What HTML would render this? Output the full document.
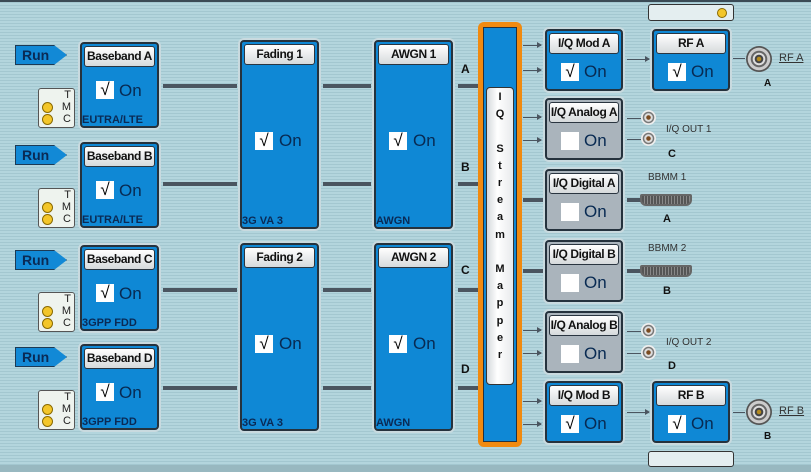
<!DOCTYPE html>
<html><head><meta charset="utf-8"><style>
*{margin:0;padding:0;box-sizing:border-box}
body{width:811px;height:472px;overflow:hidden;position:relative;font-family:"Liberation Sans",sans-serif;
background:repeating-linear-gradient(180deg,#b3d5dd 0px,#b3d5dd 2px,#a3c7d0 2px,#a3c7d0 3px);}
.a{position:absolute}
.blk{position:absolute;background:#0f88d5;border:2px solid #25323d;border-radius:4px;box-shadow:0 0 0 2px #c9dadf}
.gray{background:#aab4bc}
.hd{position:absolute;left:2px;right:2px;top:2px;height:21px;background:linear-gradient(#fff,#d6dadc);border:1px solid #2a3540;border-radius:3px;font:bold 12px "Liberation Sans",sans-serif;text-align:center;line-height:19px;color:#111;white-space:nowrap;letter-spacing:-0.4px}
.cb{position:absolute;width:18px;height:18px;background:#fff;font:17px "Liberation Sans",sans-serif;line-height:18px;text-align:center;color:#000}
.on{position:absolute;font:17px "Liberation Sans",sans-serif;color:#082a52}
.sub{position:absolute;left:0;bottom:0;font:bold 11px "Liberation Sans",sans-serif;color:#0a2a55;white-space:nowrap}
.ln{position:absolute;height:4px;background:#4a5560}
.tn{position:absolute;height:1px;background:#4a5560}
.tn:after{content:"";position:absolute;right:-1px;top:-3px;border-left:5px solid #4a5560;border-top:3.5px solid transparent;border-bottom:3.5px solid transparent}
.run{position:absolute;width:52px;height:20px;background:#1289d6;border:1px solid #1c3a55;clip-path:polygon(0 0,75% 0,100% 50%,75% 100%,0 100%);font:bold 14px "Liberation Sans",sans-serif;color:#0a2a55;line-height:19px;padding-left:6px}
.tmc{position:absolute;width:37px;height:40px;background:#eef3ee;border:1px solid #555;border-radius:3px;font:11px "Liberation Sans",sans-serif;color:#222}
.tmc span{position:absolute;right:3px}
.dot{position:absolute;left:3px;width:11px;height:11px;border-radius:50%;background:#f3c62a;border:1px solid #8a6a00}
.lbl{position:absolute;font:bold 12px "Liberation Sans",sans-serif;color:#111}
.sm{position:absolute;font:10px "Liberation Sans",sans-serif;color:#333}
.bnc{position:absolute;width:15px;height:15px;border-radius:50%;background:radial-gradient(circle,#7a4a20 0 2px,#ddd 2.5px 4px,#777 4.5px 5.5px,#eee 6px)}
.bbmm{position:absolute;width:52px;height:12px;background:repeating-linear-gradient(90deg,#555 0 2px,#888 2px 3px);border:2px solid #666;border-radius:2px 2px 6px 6px}
.rfc{position:absolute;width:26px;height:26px;border-radius:50%;background:radial-gradient(circle,#b38a20 0 2px,#444 2.5px 4px,#ddd 4.5px 6px,#666 6.5px 8px,#ccc 8.5px 11px,#555 11.5px)}
</style></head><body>
<div class="a" style="left:0;top:0;width:811px;height:2px;background:#3a4a55"></div>
<div class="a" style="left:0;top:465px;width:811px;height:7px;background:#98b8c0"></div>

<div class="run" style="left:15px;top:45px">Run</div>
<div class="run" style="left:15px;top:145px">Run</div>
<div class="run" style="left:15px;top:250px">Run</div>
<div class="run" style="left:15px;top:347px">Run</div>

<div class="tmc" style="left:38px;top:88px"><span style="top:0">T</span><span style="top:12px">M</span><span style="top:24px">C</span><div class="dot" style="top:13px"></div><div class="dot" style="top:25px"></div></div>
<div class="tmc" style="left:38px;top:188px"><span style="top:0">T</span><span style="top:12px">M</span><span style="top:24px">C</span><div class="dot" style="top:13px"></div><div class="dot" style="top:25px"></div></div>
<div class="tmc" style="left:38px;top:292px"><span style="top:0">T</span><span style="top:12px">M</span><span style="top:24px">C</span><div class="dot" style="top:13px"></div><div class="dot" style="top:25px"></div></div>
<div class="tmc" style="left:38px;top:390px"><span style="top:0">T</span><span style="top:12px">M</span><span style="top:24px">C</span><div class="dot" style="top:13px"></div><div class="dot" style="top:25px"></div></div>

<div class="blk" style="left:80px;top:42px;width:79px;height:86px"><div class="hd">Baseband A</div><div class="cb" style="left:14px;top:37px">√</div><div class="on" style="left:37px;top:37px">On</div><div class="sub">EUTRA/LTE</div></div>
<div class="blk" style="left:80px;top:142px;width:79px;height:86px"><div class="hd">Baseband B</div><div class="cb" style="left:14px;top:37px">√</div><div class="on" style="left:37px;top:37px">On</div><div class="sub">EUTRA/LTE</div></div>
<div class="blk" style="left:80px;top:245px;width:79px;height:86px"><div class="hd">Baseband C</div><div class="cb" style="left:14px;top:37px">√</div><div class="on" style="left:37px;top:37px">On</div><div class="sub">3GPP FDD</div></div>
<div class="blk" style="left:80px;top:344px;width:79px;height:86px"><div class="hd">Baseband D</div><div class="cb" style="left:14px;top:37px">√</div><div class="on" style="left:37px;top:37px">On</div><div class="sub">3GPP FDD</div></div>

<div class="ln" style="left:163px;top:84px;width:74px"></div>
<div class="ln" style="left:163px;top:182px;width:74px"></div>
<div class="ln" style="left:163px;top:288px;width:74px"></div>
<div class="ln" style="left:163px;top:386px;width:74px"></div>

<div class="blk" style="left:240px;top:40px;width:79px;height:189px"><div class="hd">Fading 1</div><div class="cb" style="left:13px;top:90px">√</div><div class="on" style="left:37px;top:89px">On</div><div class="sub">3G VA 3</div></div>
<div class="blk" style="left:240px;top:243px;width:79px;height:188px"><div class="hd">Fading 2</div><div class="cb" style="left:13px;top:90px">√</div><div class="on" style="left:37px;top:89px">On</div><div class="sub">3G VA 3</div></div>

<div class="ln" style="left:323px;top:84px;width:48px"></div>
<div class="ln" style="left:323px;top:182px;width:48px"></div>
<div class="ln" style="left:323px;top:288px;width:48px"></div>
<div class="ln" style="left:323px;top:386px;width:48px"></div>

<div class="blk" style="left:374px;top:40px;width:79px;height:189px"><div class="hd">AWGN 1</div><div class="cb" style="left:13px;top:90px">√</div><div class="on" style="left:37px;top:89px">On</div><div class="sub">AWGN</div></div>
<div class="blk" style="left:374px;top:243px;width:79px;height:188px"><div class="hd">AWGN 2</div><div class="cb" style="left:13px;top:90px">√</div><div class="on" style="left:37px;top:89px">On</div><div class="sub">AWGN</div></div>

<div class="ln" style="left:458px;top:84px;width:20px"></div>
<div class="ln" style="left:458px;top:182px;width:20px"></div>
<div class="ln" style="left:458px;top:288px;width:20px"></div>
<div class="ln" style="left:458px;top:386px;width:20px"></div>
<div class="lbl" style="left:461px;top:62px">A</div>
<div class="lbl" style="left:461px;top:160px">B</div>
<div class="lbl" style="left:461px;top:263px">C</div>
<div class="lbl" style="left:461px;top:362px">D</div>

<div class="a" style="left:478px;top:22px;width:44px;height:425px;background:#f08a10;border-radius:6px"></div>
<div class="a" style="left:483px;top:27px;width:34px;height:415px;background:#0f88d5;border:1px solid #25323d"></div>
<div class="a" style="left:486px;top:87px;width:28px;height:298px;background:linear-gradient(90deg,#d5d9dc,#fff 40%,#e8eaec);border:1px solid #333;border-radius:4px;font:bold 11px 'Liberation Sans',sans-serif;text-align:center;line-height:17.2px;padding-top:1px;color:#111">I<br>Q<br>&nbsp;<br>S<br>t<br>r<br>e<br>a<br>m<br>&nbsp;<br>M<br>a<br>p<br>p<br>e<br>r</div>

<div class="tn" style="left:523px;top:45px;width:18px"></div>
<div class="tn" style="left:523px;top:70px;width:18px"></div>
<div class="tn" style="left:523px;top:117px;width:18px"></div>
<div class="tn" style="left:523px;top:140px;width:18px"></div>
<div class="ln" style="left:523px;top:198px;width:20px"></div>
<div class="ln" style="left:523px;top:269px;width:20px"></div>
<div class="tn" style="left:523px;top:330px;width:18px"></div>
<div class="tn" style="left:523px;top:353px;width:18px"></div>
<div class="tn" style="left:523px;top:401px;width:18px"></div>
<div class="tn" style="left:523px;top:424px;width:18px"></div>

<div class="blk" style="left:545px;top:29px;width:78px;height:62px"><div class="hd">I/Q Mod A</div><div class="cb" style="left:14px;top:32px">√</div><div class="on" style="left:37px;top:31px">On</div></div>
<div class="blk gray" style="left:545px;top:98px;width:78px;height:62px"><div class="hd">I/Q Analog A</div><div class="cb" style="left:14px;top:32px"></div><div class="on" style="left:37px;top:31px">On</div></div>
<div class="blk gray" style="left:545px;top:169px;width:78px;height:62px"><div class="hd">I/Q Digital A</div><div class="cb" style="left:14px;top:32px"></div><div class="on" style="left:37px;top:31px">On</div></div>
<div class="blk gray" style="left:545px;top:240px;width:78px;height:62px"><div class="hd">I/Q Digital B</div><div class="cb" style="left:14px;top:32px"></div><div class="on" style="left:37px;top:31px">On</div></div>
<div class="blk gray" style="left:545px;top:311px;width:78px;height:62px"><div class="hd">I/Q Analog B</div><div class="cb" style="left:14px;top:32px"></div><div class="on" style="left:37px;top:31px">On</div></div>
<div class="blk" style="left:545px;top:381px;width:78px;height:62px"><div class="hd">I/Q Mod B</div><div class="cb" style="left:14px;top:32px">√</div><div class="on" style="left:37px;top:31px">On</div></div>

<div class="tn" style="left:627px;top:59px;width:22px"></div>
<div class="tn" style="left:627px;top:412px;width:22px"></div>

<div class="blk" style="left:652px;top:29px;width:78px;height:62px"><div class="hd">RF A</div><div class="cb" style="left:14px;top:32px">√</div><div class="on" style="left:37px;top:31px">On</div></div>
<div class="blk" style="left:652px;top:381px;width:78px;height:62px"><div class="hd">RF B</div><div class="cb" style="left:14px;top:32px">√</div><div class="on" style="left:37px;top:31px">On</div></div>

<div class="a" style="left:648px;top:4px;width:86px;height:17px;background:#e4eef0;border:1px solid #333;border-radius:3px"><div class="a" style="left:68px;top:3px;width:10px;height:10px;border-radius:50%;background:#f3c62a;border:1px solid #8a6a00"></div></div>
<div class="a" style="left:648px;top:451px;width:86px;height:16px;background:#e4eef0;border:1px solid #333;border-radius:3px"></div>

<div class="a" style="left:733px;top:58px;width:12px;height:1px;background:#4a5560"></div>
<div class="rfc" style="left:746px;top:46px"></div>
<div class="sm" style="left:779px;top:52px;text-decoration:underline;font-size:11px">RF A</div>
<div class="lbl" style="left:764px;top:78px;font-size:10px">A</div>
<div class="a" style="left:733px;top:412px;width:12px;height:1px;background:#4a5560"></div>
<div class="rfc" style="left:746px;top:399px"></div>
<div class="sm" style="left:779px;top:405px;text-decoration:underline;font-size:11px">RF B</div>
<div class="lbl" style="left:764px;top:431px;font-size:10px">B</div>

<div class="a" style="left:627px;top:118px;width:14px;height:1px;background:#4a5560"></div>
<div class="a" style="left:627px;top:139px;width:14px;height:1px;background:#4a5560"></div>
<div class="bnc" style="left:641px;top:110px"></div><div class="bnc" style="left:641px;top:131px"></div>
<div class="sm" style="left:666px;top:124px">I/Q OUT 1</div>
<div class="lbl" style="left:668px;top:148px;font-size:11px">C</div>
<div class="a" style="left:627px;top:331px;width:14px;height:1px;background:#4a5560"></div>
<div class="a" style="left:627px;top:353px;width:14px;height:1px;background:#4a5560"></div>
<div class="bnc" style="left:641px;top:323px"></div><div class="bnc" style="left:641px;top:345px"></div>
<div class="sm" style="left:666px;top:337px">I/Q OUT 2</div>
<div class="lbl" style="left:668px;top:360px;font-size:11px">D</div>

<div class="ln" style="left:627px;top:198px;width:14px"></div>
<div class="bbmm" style="left:640px;top:194px"></div>
<div class="sm" style="left:648px;top:172px">BBMM 1</div>
<div class="lbl" style="left:663px;top:213px;font-size:11px">A</div>
<div class="ln" style="left:627px;top:269px;width:14px"></div>
<div class="bbmm" style="left:640px;top:265px"></div>
<div class="sm" style="left:648px;top:243px">BBMM 2</div>
<div class="lbl" style="left:663px;top:285px;font-size:11px">B</div>
</body></html>
